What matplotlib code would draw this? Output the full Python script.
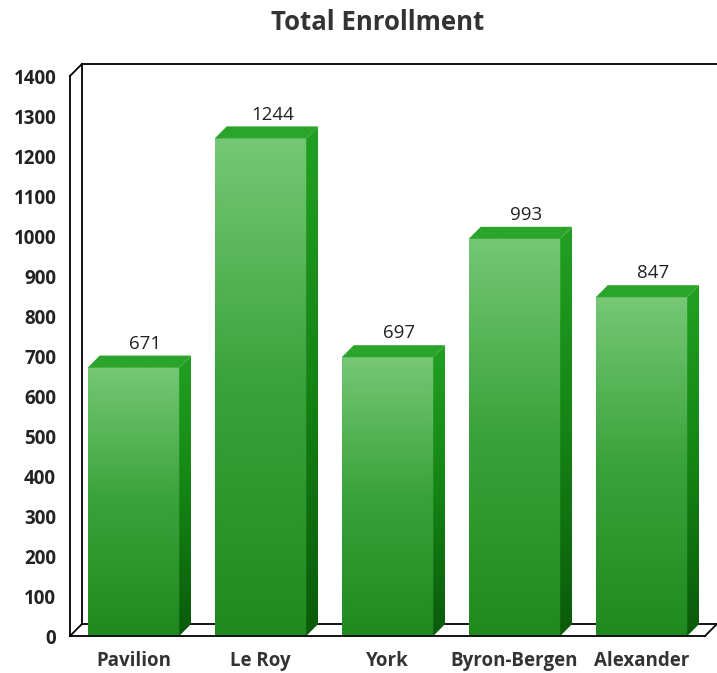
import numpy as np
import matplotlib
matplotlib.use("Agg")
import matplotlib.pyplot as plt
from matplotlib.patches import Polygon
from matplotlib.colors import LinearSegmentedColormap

plt.rcParams['font.family'] = ['Open Sans', 'DejaVu Sans']

schools = ["Pavilion", "Le Roy", "York", "Byron-Bergen", "Alexander"]
enrollment = [671, 1244, 697, 993, 847]
yticks = list(range(0, 1401, 100))

fig = plt.figure(figsize=(7.17, 6.73), dpi=100)
ax = fig.add_axes([70 / 717, 37 / 673, 635 / 717, 560 / 673])
ax.set_xlim(-0.5, 4.5)
ax.set_ylim(0, 1400)

# depth of the fake 3d effect, in data units
dx, dy = 0.094, 30
w = 0.72

front_cmap = LinearSegmentedColormap.from_list("front", ["#1f8a1f", "#3aa23a", "#76c876"])
side_cmap = LinearSegmentedColormap.from_list("side", ["#0b5a0b", "#148414", "#22a022"])

# frame: front-left, back wall, floor
k = dict(color="black", lw=1.3, clip_on=False, zorder=1)
ax.plot([-0.5, -0.5], [0, 1400], **k)
ax.plot([-0.5, -0.5 + dx], [1400, 1400 + dy], **k)
ax.plot([-0.5 + dx, -0.5 + dx], [dy, 1400 + dy], **k)
ax.plot([-0.5 + dx, 4.5 + dx + 0.1], [1400 + dy, 1400 + dy], **k)
ax.plot([-0.5, -0.5 + dx], [0, dy], **k)
ax.plot([-0.5 + dx, 4.5 + dx], [dy, dy], **k)
ax.plot([4.5, 4.5 + dx], [0, dy], **k)
ax.plot([-0.5, 4.5], [0, 0], color="black", lw=1.3, clip_on=False, zorder=5)

grad_v = np.linspace(0, 1, 256).reshape(-1, 1)
grad_h = np.concatenate([np.linspace(0.9, 1.0, 20), np.ones(200), np.linspace(1.0, 0.93, 36)])
front_img = grad_v * 0.85 + 0.15 * grad_v * grad_h.reshape(1, -1)

for i, (name, val) in enumerate(zip(schools, enrollment)):
    x0, x1 = i - w / 2, i + w / 2
    ax.imshow(front_img, cmap=front_cmap, origin="lower", aspect="auto",
              extent=(x0, x1, 0, val), zorder=3, clip_on=False)
    side = Polygon([(x1, 0), (x1 + dx, dy), (x1 + dx, val + dy), (x1, val)],
                   closed=True, facecolor="none", edgecolor="none", clip_on=False)
    ax.add_patch(side)
    im = ax.imshow(grad_v, cmap=side_cmap, origin="lower", aspect="auto",
                   extent=(x1, x1 + dx, 0, val + dy), zorder=3)
    im.set_clip_path(side)
    ax.add_patch(Polygon([(x0, val), (x0 + dx, val + dy), (x1 + dx, val + dy), (x1, val)],
                         closed=True, facecolor="#2aa42a", edgecolor="none",
                         zorder=3, clip_on=False))
    ax.annotate(str(val), (i + dx, val + dy), xytext=(0, 2), textcoords="offset points",
                ha="center", va="bottom", fontsize=13.5, color="#222222")

ax.set_xlim(-0.5, 4.5)
ax.set_ylim(0, 1400)
for s in ax.spines.values():
    s.set_visible(False)
ax.set_xticks(range(len(schools)))
ax.set_xticklabels(schools, fontsize=13.5, fontweight="bold", color="#333333")
ax.set_yticks(yticks)
ax.set_yticklabels([str(t) for t in yticks], fontsize=13.5, fontweight="bold", color="#222222")
ax.tick_params(length=0, axis="y", pad=10)
ax.tick_params(length=0, axis="x", pad=11)

fig.text(378 / 717, 1 - 22 / 673, "Total Enrollment", ha="center", va="center",
         fontsize=18.5, fontweight="bold", color="#333333")

fig.savefig("out.png", dpi=100)
